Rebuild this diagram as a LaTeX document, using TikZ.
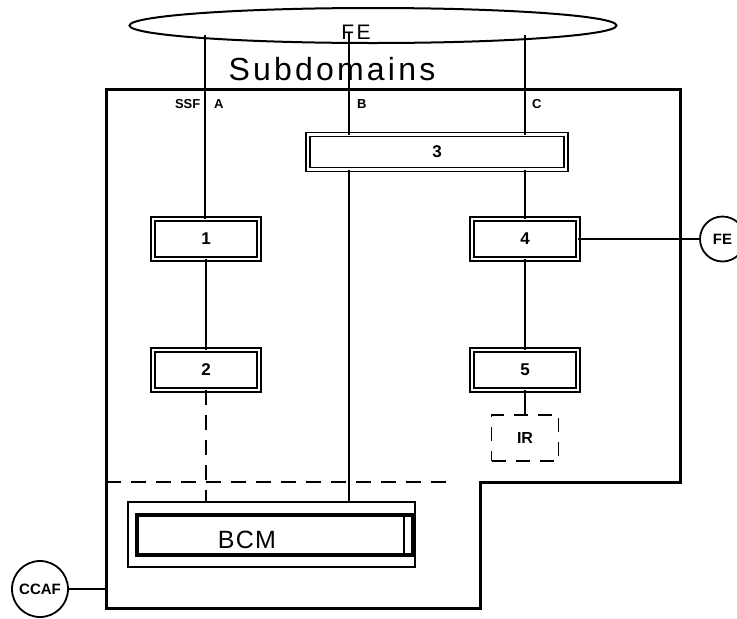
\documentclass[tikz,border=0pt]{standalone}
\usepackage{fontspec}
\setmainfont{Liberation Sans}
\usetikzlibrary{positioning,shapes.geometric}

\begin{document}
\begin{tikzpicture}[x=1pt,y=-1pt,every node/.style={font=\bfseries\fontsize{13}{15}\selectfont,inner sep=0pt,outer sep=0pt},dbox/.style={draw,double,double distance=2.2pt,line width=1.8pt,minimum width=106pt,minimum height=40pt,font=\bfseries\fontsize{17}{19}\selectfont},irbox/.style={draw,line width=1.8pt,dash pattern=on 14pt off 10pt,minimum width=67pt,minimum height=46pt,font=\bfseries\fontsize{16}{18}\selectfont},circ/.style={draw,circle,line width=1.8pt,font=\bfseries\fontsize{15}{17}\selectfont},wire/.style={line width=2pt},dashwire/.style={line width=2pt,dash pattern=on 15pt off 10pt}]
\useasboundingbox (0,0) rectangle (737,619);
\node[draw,ellipse,line width=2pt,minimum width=487pt,minimum height=35pt] (fe) at (373,25.5) {};
\node[anchor=base,font=\fontsize{21}{24}\selectfont\addfontfeatures{LetterSpace=12}] (feText) at (356,39) {FE};
\node[anchor=base,font=\fontsize{32}{36}\selectfont\addfontfeatures{LetterSpace=10}] (sub) at (332,80) {Subdomains};
\draw[line width=3pt] (106,89) -- (680,89) -- (680,482) -- (480,482) -- (480,608) -- (106,608) -- cycle;
\draw[dashwire] (106,482) -- (452,482);
\coordinate (topA) at (205,35);
\coordinate (topB) at (349,32);
\coordinate (topC) at (525,35);
\coordinate (ccafPort) at (106,589);
\node[anchor=base west] (ssf) at (175,108.5) {SSF};
\node[anchor=base west] (labA) at (214,108.5) {A};
\node[anchor=base west] (labB) at (357,108.5) {B};
\node[anchor=base west] (labC) at (532,108.5) {C};
\node[dbox,minimum width=258pt,minimum height=35pt] (b3) at (437,152) {3};
\node[dbox] (b1) at (206,239) {1};
\node[dbox,below=91pt of b1] (b2) {2};
\node[dbox] (b4) at (525,239) {4};
\node[dbox,below=91pt of b4] (b5) {5};
\node[irbox] (ir) at (525,438) {IR};
\node[draw,line width=1.8pt,minimum width=287pt,minimum height=65pt] (bcmFrame) at (271.5,534.5) {};
\node[draw,line width=3.5pt,minimum width=276pt,minimum height=40pt] (bcm) at (275,535) {};
\draw[line width=1.2pt] ([xshift=-9pt]bcm.north east) -- ([xshift=-9pt]bcm.south east);
\node[anchor=base,font=\fontsize{25}{28}\selectfont\addfontfeatures{LetterSpace=5}] (bcmText) at (247,548) {BCM};
\node[circ,minimum size=45pt] (feR) at (722.5,239) {FE};
\node[circ,minimum size=56pt,font=\bfseries\fontsize{15}{17}\selectfont] (ccaf) at (40,589) {CCAF};
\draw[wire] (topA) -- (topA |- b1.north);
\draw[wire] (b1) -- (b2);
\draw[dashwire] (b2.south) -- (b2.south |- bcmFrame.north);
\draw[wire] (topB) -- (topB |- b3.north);
\draw[wire] (topB |- b3.south) -- (topB |- bcmFrame.north);
\draw[wire] (topC) -- (topC |- b3.north);
\draw[wire] (topC |- b3.south) -- (b4.north);
\draw[wire] (b4.east) -- (feR.west);
\draw[wire] (b4) -- (b5);
\draw[wire] (b5.south) -- (ir.north);
\draw[wire] (ccaf) -- (ccafPort);
\end{tikzpicture}
\end{document}
